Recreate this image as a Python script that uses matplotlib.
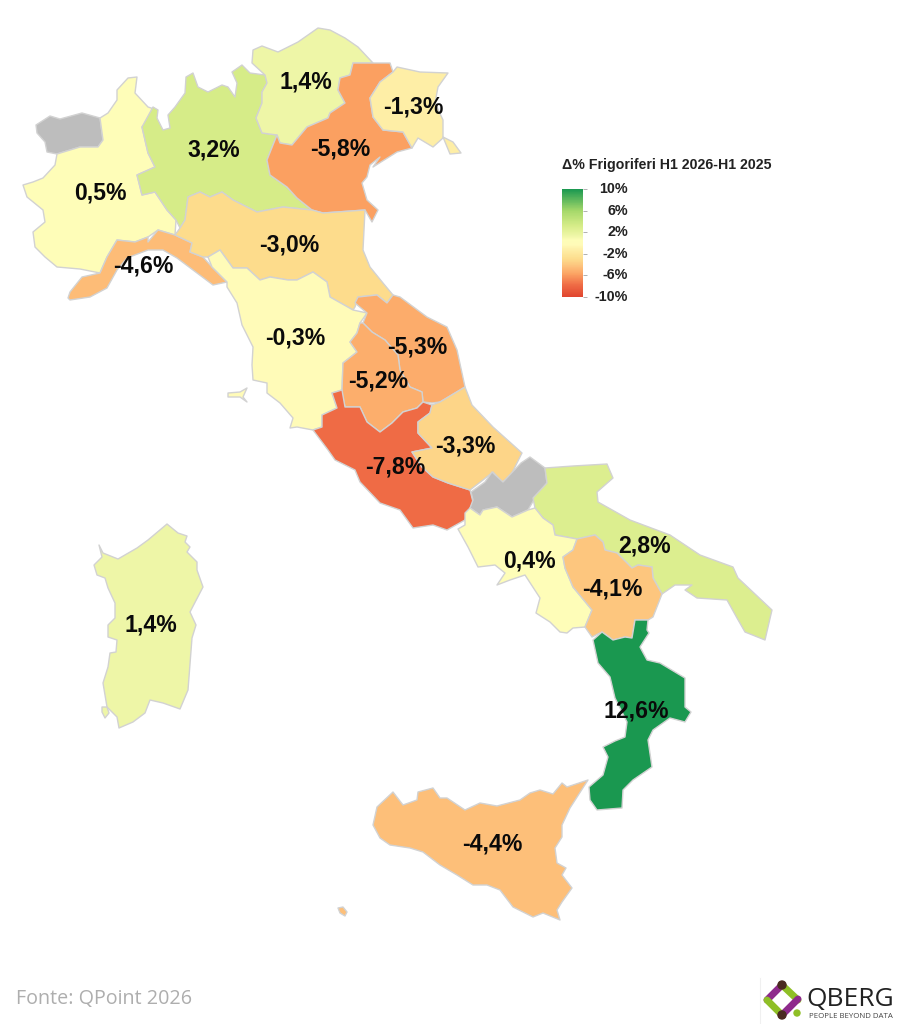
import numpy as np
import matplotlib
matplotlib.use("Agg")
import matplotlib.pyplot as plt
from matplotlib.cm import ScalarMappable
from matplotlib.colors import LinearSegmentedColormap, Normalize
from matplotlib.patches import Polygon, Circle

# Delta % per region, None = no data (grey)
regions = ["Valle d'Aosta", "Piemonte", "Lombardia", "Trentino", "Veneto", "Friuli", "Liguria",
           "Emilia", "Toscana", "Marche", "Umbria", "Lazio", "Abruzzo", "Molise", "Puglia",
           "Campania", "Basilicata", "Calabria", "Sicilia", "Sardegna"]
values = [None, 0.5, 3.2, 1.4, -5.8, -1.3, -4.6, -3.0, -0.3, -5.3, -5.2, -7.8, -3.3, None, 2.8,
          0.4, -4.1, 12.6, -4.4, 1.4]
label_x = [None, 100, 214, 306, 340, 413, 143, 289, 295, 417, 378, 395, 465, None, 645, 529, 612, 636, 492, 151]
label_y = [None, 193, 150, 82, 149, 107, 266, 245, 338, 347, 381, 467, 446, None, 546, 561, 589, 711, 844, 625]

legend_title = "Δ% Frigoriferi H1 2026-H1 2025"
legend_ticks = [-10, -6, -2, 2, 6, 10]
source_text = "Fonte: QPoint 2026"

# region outlines, traced in image pixels; a region may have more than one piece
outlines = {
    "Valle d'Aosta": [[(36,125),(50,116),(60,119),(82,113),(100,118),(103,140),(98,147),(80,147),(57,154),(47,152),(45,142),(37,133)]],
    "Piemonte": [[(137,77),(128,78),(117,90),(117,100),(108,113),(100,118),(103,140),(98,147),(80,147),(57,154),(55,165),(43,178),(33,182),(23,185),(27,197),(43,210),(45,222),(33,232),(35,247),(45,257),(57,267),(80,269),(100,273),(107,257),(117,240),(135,242),(148,237),(158,230),(175,235),(176,220),(167,210),(155,192),(142,195),(137,175),(155,167),(148,153),(142,127),(157,110),(148,107),(135,93)]],
    "Lombardia": [[(153,107),(158,110),(157,118),(163,130),(170,128),(168,115),(175,107),(185,93),(186,77),(193,73),(198,87),(208,92),(222,85),(228,87),(235,97),(237,83),(232,72),(242,65),(250,73),(265,75),(267,83),(262,92),(262,103),(256,118),(262,133),(277,135),(267,160),(270,175),(287,187),(297,198),(312,210),(283,207),(257,212),(233,200),(222,192),(210,197),(200,192),(188,197),(185,220),(180,228),(176,220),(167,210),(155,192),(142,195),(137,175),(155,167),(148,153),(142,127)]],
    "Trentino": [[(253,50),(262,46),(278,52),(298,42),(318,28),(330,30),(345,38),(358,47),(373,63),(353,63),(350,75),(340,78),(338,90),(345,103),(330,113),(328,118),(307,127),(292,145),(280,143),(277,135),(262,133),(256,118),(262,103),(262,92),(267,83),(265,75),(252,63)]],
    "Veneto": [[(353,63),(373,63),(390,63),(393,72),(380,82),(370,98),(373,117),(383,130),(403,132),(412,148),(397,152),(373,167),(380,157),(370,165),(367,177),(362,183),(367,200),(378,210),(372,222),(365,210),(323,213),(312,210),(297,198),(287,187),(270,175),(267,160),(277,135),(280,143),(292,145),(307,127),(328,118),(330,113),(345,103),(338,90),(340,78),(350,75)]],
    "Friuli": [[(393,72),(397,67),(420,72),(448,73),(438,87),(435,103),(443,120),(443,138),(433,147),(418,138),(412,148),(403,132),(383,130),(373,117),(370,98),(380,82)],
               [(443,137),(453,142),(461,153),(450,154)]],
    "Liguria": [[(68,298),(70,292),(82,277),(100,273),(107,257),(117,240),(135,242),(148,237),(148,242),(158,230),(175,235),(192,243),(190,252),(203,257),(212,267),(227,282),(213,285),(197,273),(177,258),(163,250),(148,250),(127,258),(117,270),(107,288),(90,297),(70,300)]],
    "Emilia": [[(175,235),(180,228),(185,220),(188,197),(200,192),(210,197),(222,192),(233,200),(257,212),(283,207),(312,210),(323,213),(365,210),(363,250),(370,267),(383,283),(393,295),(387,303),(377,295),(358,297),(355,307),(353,310),(330,297),(327,282),(313,272),(297,280),(288,280),(270,277),(260,280),(247,268),(233,268),(220,250),(208,257),(203,257),(190,252),(192,243)]],
    "Toscana": [[(208,257),(220,250),(233,268),(247,268),(260,280),(270,277),(288,280),(297,280),(313,272),(327,282),(330,297),(353,310),(367,313),(360,323),(357,333),(350,342),(357,352),(343,363),(342,390),(332,393),(337,408),(322,415),(322,427),(313,430),(297,427),(290,428),(293,418),(280,403),(267,393),(267,383),(253,380),(252,365),(253,347),(242,325),(237,303),(227,287),(227,282),(212,267)],
                [(228,393),(240,392),(247,388),(243,397),(247,402),(240,397),(228,397)]],
    "Marche": [[(355,303),(358,297),(377,295),(387,303),(393,295),(400,297),(427,317),(447,327),(457,350),(465,387),(440,402),(432,403),(423,402),(422,392),(410,387),(400,370),(398,355),(385,340),(372,332),(363,323),(367,313)]],
    "Umbria": [[(363,323),(372,332),(385,340),(398,355),(400,370),(410,387),(422,392),(423,402),(417,408),(403,412),(392,423),(380,432),(367,422),(360,407),(345,407),(342,393),(342,390),(343,363),(357,352),(350,342),(357,333),(360,323)]],
    "Lazio": [[(313,430),(322,427),(322,415),(337,408),(332,393),(342,390),(345,407),(360,407),(367,422),(380,432),(392,423),(403,412),(417,408),(423,402),(432,405),(430,413),(418,422),(418,433),(432,448),(412,452),(422,467),(433,477),(448,483),(470,490),(473,502),(465,520),(447,530),(433,525),(413,528),(400,510),(380,503),(360,482),(355,470),(335,460),(328,450)]],
    "Abruzzo": [[(465,387),(472,405),(493,427),(522,453),(510,477),(502,482),(493,472),(483,480),(470,490),(448,483),(433,477),(422,467),(412,452),(432,448),(418,433),(418,422),(430,413),(432,405),(440,402)]],
    "Molise": [[(521,463),(530,457),(545,468),(547,483),(535,498),(528,510),(512,517),(497,507),(483,510),(480,515),(470,508),(473,500),(471,492),(485,482),(492,472),(503,482)]],
    "Puglia": [[(545,468),(573,466),(607,464),(613,478),(597,492),(598,502),(630,520),(670,535),(700,555),(733,567),(738,578),(772,610),(765,640),(745,632),(737,618),(727,600),(697,598),(685,590),(692,585),(675,585),(662,594),(653,578),(652,567),(638,565),(632,568),(617,553),(605,550),(603,542),(595,535),(577,539),(555,535),(553,525),(543,518),(535,508),(533,498),(547,483)]],
    "Campania": [[(458,529),(465,525),(465,513),(470,508),(480,515),(483,510),(497,507),(512,517),(528,510),(535,508),(543,518),(553,525),(555,535),(577,539),(573,550),(563,557),(565,568),(573,587),(592,610),(585,627),(573,628),(567,633),(560,632),(550,622),(536,613),(540,598),(525,575),(510,580),(497,585),(505,573),(495,565),(478,567),(468,547)]],
    "Basilicata": [[(577,539),(595,535),(603,542),(605,550),(617,553),(632,568),(638,565),(652,567),(653,578),(662,594),(653,617),(648,620),(635,620),(632,638),(625,637),(613,640),(602,632),(592,637),(585,627),(592,610),(573,587),(565,568),(563,557),(573,550)]],
    "Calabria": [[(635,620),(648,620),(647,630),(649,633),(640,647),(647,660),(660,663),(685,678),(685,707),(691,712),(685,722),(670,718),(653,730),(648,740),(652,767),(633,780),(623,790),(622,808),(597,810),(590,800),(589,787),(603,775),(608,757),(603,747),(615,741),(625,737),(627,722),(615,698),(610,677),(598,663),(593,640),(602,632),(613,640),(625,637),(632,638)]],
    "Sicilia": [[(377,807),(393,792),(403,805),(417,800),(418,792),(433,788),(440,798),(447,798),(465,810),(480,803),(497,806),(520,800),(530,793),(540,790),(553,794),(562,783),(567,787),(588,780),(570,808),(562,825),(562,837),(555,848),(557,863),(566,868),(562,875),(572,888),(562,902),(557,910),(560,920),(543,913),(533,917),(513,907),(500,890),(487,885),(473,885),(457,875),(440,865),(423,852),(410,848),(390,845),(380,838),(373,825)],
                [(338,908),(343,907),(347,912),(345,916),(340,913)]],
    "Sardegna": [[(99,545),(103,553),(118,559),(137,548),(148,540),(167,524),(178,533),(187,536),(185,542),(190,547),(187,552),(197,562),(197,570),(203,587),(190,612),(196,625),(192,638),(188,690),(180,709),(163,703),(150,700),(145,713),(133,722),(119,728),(117,717),(107,707),(103,683),(108,667),(110,653),(116,652),(117,640),(108,637),(108,625),(115,618),(115,603),(108,588),(105,578),(97,575),(94,565),(102,557)],
                 [(102,707),(107,707),(109,713),(105,718),(102,712)]],
}

stops = [(-10, "#e0452f"), (-7.8, "#ef6b45"), (-5.8, "#fba162"), (-4.4, "#fdc07a"), (-3, "#fddc8c"),
         (-1.3, "#feeea6"), (-0.3, "#fffbb8"), (0.5, "#fefdb8"), (1.4, "#eef6a6"), (3.2, "#d6ec88"),
         (6, "#a5d86a"), (10, "#1a9850")]
norm = Normalize(-10, 10)
cmap = LinearSegmentedColormap.from_list("delta", [(norm(v), c) for v, c in stops], N=256)
sans = ["Liberation Sans", "DejaVu Sans"]

fig = plt.figure(figsize=(8.99, 10.24), dpi=100)
ax = fig.add_axes([0, 0, 1, 1])
ax.set_xlim(0, 899)
ax.set_ylim(1024, 0)
ax.axis("off")

for name, val in zip(regions, values):
    color = "#bdbdbd" if val is None else cmap(norm(val))
    for piece in outlines[name]:
        ax.add_patch(Polygon(piece, closed=True, facecolor=color, edgecolor="#d2d2d2", lw=1.0, joinstyle="round"))

for val, x, y in zip(values, label_x, label_y):
    if val is None:
        continue
    txt = f"{val:.1f}".replace(".", ",") + "%"
    ax.text(x, y, txt, ha="center", va="center", fontsize=16.6, fontweight="bold", family=sans, color="#0a0a0a")

# legend
cax = fig.add_axes([562 / 899, 1 - 297 / 1024, 21 / 899, 108 / 1024])
cb = fig.colorbar(ScalarMappable(norm=norm, cmap=cmap), cax=cax, ticks=legend_ticks)
cb.outline.set_visible(False)
cb.ax.tick_params(length=3, width=0.7, color="#b0b0b0")
cb.ax.set_yticklabels([])
for t in legend_ticks:
    ax.text(628, 297 - (t + 10) / 20 * 108, f"{t}%", ha="right", va="center", fontsize=10.3,
            fontweight="bold", family=sans, color="#222222")
ax.text(562, 165, legend_title, ha="left", va="center", fontsize=10.2, fontweight="bold", family=sans, color="#222222")

ax.text(16, 999, source_text, ha="left", va="center", fontsize=14.2, family=["Open Sans", "DejaVu Sans"], color="#aeaeae")

# logo
ax.plot([760, 760], [978, 1024], color="#f0f0f0", lw=0.8)
for p, q, c in [((782, 985), (767, 1000), "#8e2a8b"), ((782, 985), (798, 1000), "#8fbf26"),
                ((767, 1000), (782, 1015), "#8fbf26"), ((798, 999), (782, 1015), "#8e2a8b")]:
    ax.plot([p[0], q[0]], [p[1], q[1]], color=c, lw=5, solid_capstyle="round")
ax.add_patch(Circle((782, 985), 4, color="#4a2a20", zorder=5))
ax.add_patch(Circle((782, 1015), 4, color="#4a2a20", zorder=5))
ax.add_patch(Circle((797, 1013), 3, color="#8fbf26", zorder=5))
ax.text(850.5, 1000, "QBERG", ha="center", va="center", fontsize=19, family=["Open Sans", "DejaVu Sans"], color="#222222")
ax.text(850.5, 1016, "PEOPLE BEYOND DATA", ha="center", va="center", fontsize=5.7, family=["Open Sans", "DejaVu Sans"], color="#444444")

fig.savefig("out.png", dpi=100)
